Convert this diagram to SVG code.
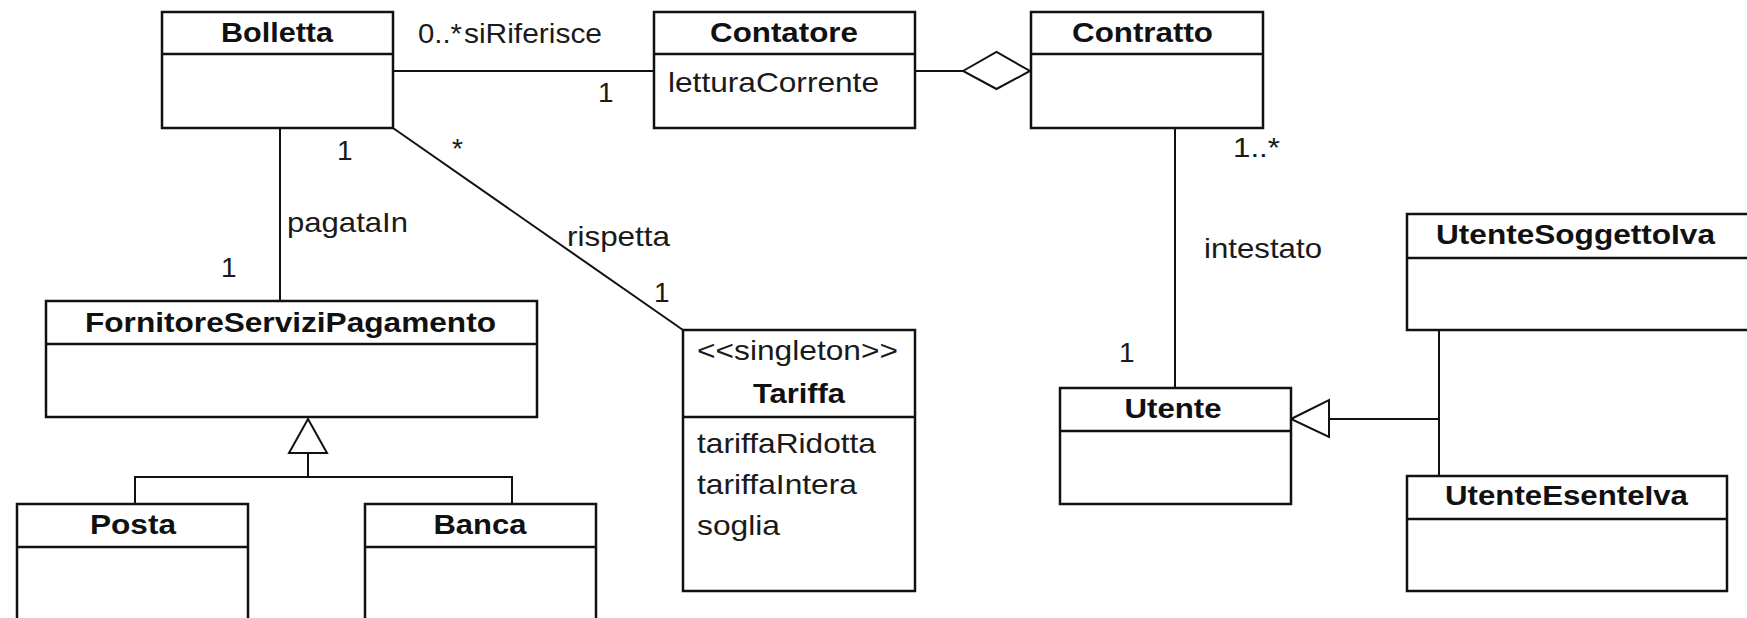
<svg xmlns="http://www.w3.org/2000/svg" width="1747" height="618" viewBox="0 0 1747 618">
<style>
  .box { fill: #ffffff; stroke: #111111; stroke-width: 2.5; }
  .div { stroke: #111111; stroke-width: 2.5; }
  .conn { fill: none; stroke: #111111; stroke-width: 2; }
  .head { fill: #ffffff; stroke: #111111; stroke-width: 2; }
  text { font-family: "Liberation Sans", Arial, sans-serif; font-size: 28px; fill: #1a1a1a; }
  .b { font-weight: bold; fill: #111111; }
  .c { text-anchor: middle; }
</style>
<rect x="0" y="0" width="1747" height="618" fill="#ffffff"/>

<g id="connectors">
  <line class="conn" x1="393" y1="71" x2="654" y2="71"/>
  <line class="conn" x1="915" y1="71" x2="963" y2="71"/>
  <polygon class="head" points="963,71 996.5,52 1030,71 996.5,89"/>
  <line class="conn" x1="280" y1="128" x2="280" y2="301"/>
  <line class="conn" x1="393" y1="128" x2="683" y2="330"/>
  <line class="conn" x1="1175" y1="128" x2="1175" y2="388"/>
  <path class="conn" d="M135,504 V477 H512 V504 M308,477 V453"/>
  <polygon class="head" points="308,419 327,453 289,453"/>
  <path class="conn" d="M1329,419 H1439 M1439,330 V476"/>
  <polygon class="head" points="1291,419 1329,400 1329,437"/>
  <text x="418" y="43" textLength="44" lengthAdjust="spacingAndGlyphs">0..*</text>
  <text x="464" y="43" textLength="138" lengthAdjust="spacingAndGlyphs">siRiferisce</text>
  <text x="598" y="102">1</text>
  <text x="337" y="160">1</text>
  <text x="452" y="158">*</text>
  <text x="287" y="232" textLength="121" lengthAdjust="spacingAndGlyphs">pagataIn</text>
  <text x="221" y="277">1</text>
  <text x="567" y="246" textLength="103" lengthAdjust="spacingAndGlyphs">rispetta</text>
  <text x="654" y="302">1</text>
  <text x="1233" y="157" textLength="47" lengthAdjust="spacingAndGlyphs">1..*</text>
  <text x="1204" y="258" textLength="118" lengthAdjust="spacingAndGlyphs">intestato</text>
  <text x="1119" y="362">1</text>
</g>

<g id="Bolletta">
  <rect class="box" x="162" y="12" width="231" height="116"/>
  <line class="div" x1="162" y1="54" x2="393" y2="54"/>
  <text class="b c" x="277" y="42" textLength="112" lengthAdjust="spacingAndGlyphs">Bolletta</text>
</g>

<g id="Contatore">
  <rect class="box" x="654" y="12" width="261" height="116"/>
  <line class="div" x1="654" y1="54" x2="915" y2="54"/>
  <text class="b c" x="784" y="42" textLength="148" lengthAdjust="spacingAndGlyphs">Contatore</text>
  <text x="668" y="92" textLength="211" lengthAdjust="spacingAndGlyphs">letturaCorrente</text>
</g>

<g id="Contratto">
  <rect class="box" x="1031" y="12" width="232" height="116"/>
  <line class="div" x1="1031" y1="54" x2="1263" y2="54"/>
  <text class="b c" x="1142.5" y="42" textLength="141" lengthAdjust="spacingAndGlyphs">Contratto</text>
</g>

<g id="FornitoreServiziPagamento">
  <rect class="box" x="46" y="301" width="491" height="116"/>
  <line class="div" x1="46" y1="344" x2="537" y2="344"/>
  <text class="b c" x="290.5" y="332" textLength="411" lengthAdjust="spacingAndGlyphs">FornitoreServiziPagamento</text>
</g>

<g id="Tariffa">
  <rect class="box" x="683" y="330" width="232" height="261"/>
  <line class="div" x1="683" y1="417" x2="915" y2="417"/>
  <text class="c" x="797.5" y="360" textLength="201" lengthAdjust="spacingAndGlyphs">&lt;&lt;singleton&gt;&gt;</text>
  <text class="b c" x="799" y="403" textLength="92" lengthAdjust="spacingAndGlyphs">Tariffa</text>
  <text x="697" y="453" textLength="179" lengthAdjust="spacingAndGlyphs">tariffaRidotta</text>
  <text x="697" y="494" textLength="160" lengthAdjust="spacingAndGlyphs">tariffaIntera</text>
  <text x="697" y="535" textLength="83" lengthAdjust="spacingAndGlyphs">soglia</text>
</g>

<g id="Posta">
  <rect class="box" x="17" y="504" width="231" height="130"/>
  <line class="div" x1="17" y1="547" x2="248" y2="547"/>
  <text class="b c" x="133" y="534" textLength="86" lengthAdjust="spacingAndGlyphs">Posta</text>
</g>

<g id="Banca">
  <rect class="box" x="365" y="504" width="231" height="130"/>
  <line class="div" x1="365" y1="547" x2="596" y2="547"/>
  <text class="b c" x="480" y="534" textLength="93" lengthAdjust="spacingAndGlyphs">Banca</text>
</g>

<g id="Utente">
  <rect class="box" x="1060" y="388" width="231" height="116"/>
  <line class="div" x1="1060" y1="431" x2="1291" y2="431"/>
  <text class="b c" x="1173" y="418" textLength="97" lengthAdjust="spacingAndGlyphs">Utente</text>
</g>

<g id="UtenteSoggettoIva">
  <rect class="box" x="1407" y="214" width="360" height="116"/>
  <line class="div" x1="1407" y1="258" x2="1767" y2="258"/>
  <text class="b" x="1436" y="244" textLength="279" lengthAdjust="spacingAndGlyphs">UtenteSoggettoIva</text>
</g>

<g id="UtenteEsenteIva">
  <rect class="box" x="1407" y="476" width="320" height="115"/>
  <line class="div" x1="1407" y1="519" x2="1727" y2="519"/>
  <text class="b c" x="1566.5" y="505" textLength="243" lengthAdjust="spacingAndGlyphs">UtenteEsenteIva</text>
</g>
</svg>
